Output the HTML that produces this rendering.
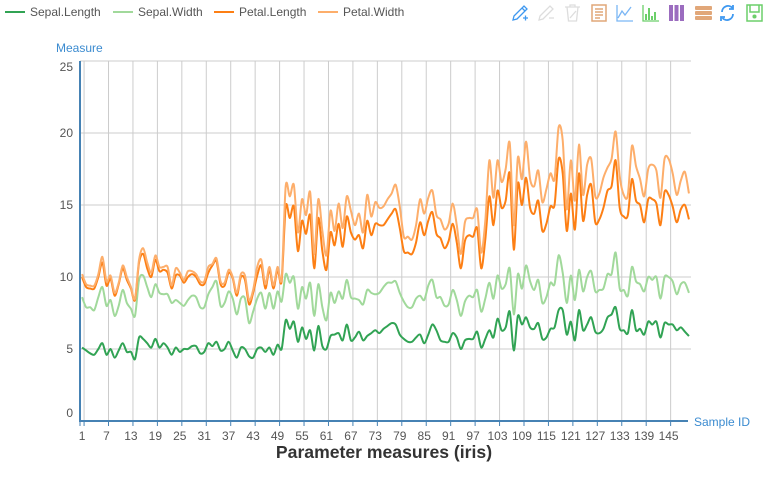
<!DOCTYPE html>
<html><head><meta charset="utf-8">
<style>
html,body{margin:0;padding:0;background:#fff;}
body{width:768px;height:480px;overflow:hidden;font-family:"Liberation Sans",sans-serif;}
svg text{font-family:"Liberation Sans",sans-serif;}
</style></head>
<body>
<svg id="chart" width="768" height="480" viewBox="0 0 768 480" xmlns="http://www.w3.org/2000/svg">
<g id="grid"></g>
<g id="series"></g>
<g id="axes"></g>
<g id="legend"></g>
<g id="toolbox">
 <g fill="none" stroke="#3e98f0" stroke-width="1.3">
  <path d="M513 20 L514 16 L524 6 L527 9 L517 19 Z M522 8 L525 11"/><path d="M523 18 h5 M525.5 15.5 v5"/></g>
 <g fill="none" stroke="#ddd" stroke-width="1.3">
  <path d="M539 20 L540 16 L550 6 L553 9 L543 19 Z"/><path d="M549 18 h5"/></g>
 <g fill="none" stroke="#ddd" stroke-width="1.3">
  <path d="M565 7 h15 M567 7 l1.5 14 h8 l1.5 -14 M570 7 v-2 h5 v2 M570 18 l6 -7"/></g>
 <g fill="none" stroke="#e1a779" stroke-width="1.5">
  <rect x="592" y="5" width="14" height="16"/><path d="M595 9 h8 M595 12 h8 M595 15 h8 M595 18 h5"/></g>
 <g fill="none" stroke="#7ab6f5" stroke-width="1.3">
  <path d="M617 5 v16 h16 M618 18 l4 -7 l3 4 l6 -8"/></g>
 <g fill="none" stroke="#6ccf6a" stroke-width="1.3">
  <path d="M643 5 v16 h16"/><path d="M646 20 v-6 M649 20 v-12 M652 20 v-4 M655 20 v-8" stroke-width="2"/></g>
 <g fill="#9b6cbf">
  <rect x="669" y="5" width="4" height="16"/><rect x="674.5" y="5" width="4" height="16"/><rect x="680" y="5" width="4" height="16"/></g>
 <g fill="#e1a779">
  <rect x="695" y="6" width="17" height="4" rx="1"/><rect x="695" y="11" width="17" height="4" rx="1"/><rect x="695" y="16" width="17" height="4" rx="1"/></g>
 <g fill="none" stroke="#3e98f0" stroke-width="1.8">
  <path d="M722 12 a6 6 0 0 1 10.5 -4 M733 14 a6 6 0 0 1 -10.5 4"/><path d="M733 5 v4 h-4 M721 21 v-4 h4"/></g>
 <g fill="none" stroke="#6ccf6a" stroke-width="1.5">
  <rect x="747" y="5" width="15" height="16"/><path d="M750 5 v7 h9 v-7"/><circle cx="754.5" cy="16.5" r="1.3" fill="#6ccf6a"/></g>
</g>
<text x="56" y="52" font-size="12" fill="#3b8bd0">Measure</text>
<text x="694" y="426" font-size="12" fill="#3b8bd0">Sample ID</text>
<text x="384" y="458" font-size="17.6" font-weight="bold" fill="#333" text-anchor="middle">Parameter measures (iris)</text>
</svg>
<script>
const seriesNames = ["Sepal.Length","Sepal.Width","Petal.Length","Petal.Width"];
const seriesColors = ["#31a354","#a1d99b","#fd7f14","#fdae6b"];
const sepalLength = [5.1,4.9,4.7,4.6,5.0,5.4,4.6,5.0,4.4,4.9,5.4,4.8,4.8,4.3,5.8,5.7,5.4,5.1,5.7,5.1,5.4,5.1,4.6,5.1,4.8,5.0,5.0,5.2,5.2,4.7,4.8,5.4,5.2,5.5,4.9,5.0,5.5,4.9,4.4,5.1,5.0,4.5,4.4,5.0,5.1,4.8,5.1,4.6,5.3,5.0,
7.0,6.4,6.9,5.5,6.5,5.7,6.3,4.9,6.6,5.2,5.0,5.9,6.0,6.1,5.6,6.7,5.6,5.8,6.2,5.6,5.9,6.1,6.3,6.1,6.4,6.6,6.8,6.7,6.0,5.7,5.5,5.5,5.8,6.0,5.4,6.0,6.7,6.3,5.6,5.5,5.5,6.1,5.8,5.0,5.6,5.7,5.7,6.2,5.1,5.7,
6.3,5.8,7.1,6.3,6.5,7.6,4.9,7.3,6.7,7.2,6.5,6.4,6.8,5.7,5.8,6.4,6.5,7.7,7.7,6.0,6.9,5.6,7.7,6.3,6.7,7.2,6.2,6.1,6.4,7.2,7.4,7.9,6.4,6.3,6.1,7.7,6.3,6.4,6.0,6.9,6.7,6.9,5.8,6.8,6.7,6.7,6.3,6.5,6.2,5.9];
const sepalWidth = [3.5,3.0,3.2,3.1,3.6,3.9,3.4,3.4,2.9,3.1,3.7,3.4,3.0,3.0,4.0,4.4,3.9,3.5,3.8,3.8,3.4,3.7,3.6,3.3,3.4,3.0,3.4,3.5,3.4,3.2,3.1,3.4,4.1,4.2,3.1,3.2,3.5,3.6,3.0,3.4,3.5,2.3,3.2,3.5,3.8,3.0,3.8,3.2,3.7,3.3,
3.2,3.2,3.1,2.3,2.8,2.8,3.3,2.4,2.9,2.7,2.0,3.0,2.2,2.9,2.9,3.1,3.0,2.7,2.2,2.5,3.2,2.8,2.5,2.8,2.9,3.0,2.8,3.0,2.9,2.6,2.4,2.4,2.7,2.7,3.0,3.4,3.1,2.3,3.0,2.5,2.6,3.0,2.6,2.3,2.7,3.0,2.9,2.9,2.5,2.8,
3.3,2.7,3.0,2.9,3.0,3.0,2.5,2.9,2.5,3.6,3.2,2.7,3.0,2.5,2.8,3.2,3.0,3.8,2.6,2.2,3.2,2.8,2.8,2.7,3.3,3.2,2.8,3.0,2.8,3.0,2.8,3.8,2.8,2.8,2.6,3.0,3.4,3.1,3.0,3.1,3.1,3.1,2.7,3.2,3.3,3.0,2.5,3.0,3.4,3.0];
const petalLength = [1.4,1.4,1.3,1.5,1.4,1.7,1.4,1.5,1.4,1.5,1.5,1.6,1.4,1.1,1.2,1.5,1.3,1.4,1.7,1.5,1.7,1.5,1.0,1.7,1.9,1.6,1.6,1.5,1.4,1.6,1.6,1.5,1.5,1.4,1.5,1.2,1.3,1.4,1.3,1.5,1.3,1.3,1.3,1.6,1.9,1.4,1.6,1.4,1.5,1.4,
4.7,4.5,4.9,4.0,4.6,4.5,4.7,3.3,4.6,3.9,3.5,4.2,4.0,4.7,3.6,4.4,4.5,4.1,4.5,3.9,4.8,4.0,4.9,4.7,4.3,4.4,4.8,5.0,4.5,3.5,3.8,3.7,3.9,5.1,4.5,4.5,4.7,4.4,4.1,4.0,4.4,4.6,4.0,3.3,4.2,4.2,4.2,4.3,3.0,4.1,
6.0,5.1,5.9,5.6,5.8,6.6,4.5,6.3,5.8,6.1,5.1,5.3,5.5,5.0,5.1,5.3,5.5,6.7,6.9,5.0,5.7,4.9,6.7,4.9,5.7,6.0,4.8,4.9,5.6,5.8,6.1,6.4,5.6,5.1,5.6,6.1,5.6,5.5,4.8,5.4,5.6,5.1,5.1,5.9,5.7,5.2,5.0,5.2,5.4,5.1];
const petalWidth = [0.2,0.2,0.2,0.2,0.2,0.4,0.3,0.2,0.2,0.1,0.2,0.2,0.1,0.1,0.2,0.4,0.4,0.3,0.3,0.3,0.2,0.4,0.2,0.5,0.2,0.2,0.4,0.2,0.2,0.2,0.2,0.4,0.1,0.2,0.2,0.2,0.2,0.1,0.2,0.2,0.3,0.3,0.2,0.6,0.4,0.3,0.2,0.2,0.2,0.2,
1.4,1.5,1.5,1.3,1.5,1.3,1.6,1.0,1.3,1.4,1.0,1.5,1.0,1.4,1.3,1.4,1.5,1.0,1.5,1.1,1.8,1.3,1.5,1.2,1.3,1.4,1.4,1.7,1.5,1.0,1.1,1.0,1.2,1.6,1.5,1.6,1.5,1.3,1.3,1.3,1.2,1.4,1.2,1.0,1.3,1.2,1.3,1.3,1.1,1.3,
2.5,1.9,2.1,1.8,2.2,2.1,1.7,1.8,1.8,2.5,2.0,1.9,2.1,2.0,2.4,2.3,1.8,2.2,2.3,1.5,2.3,2.0,2.0,1.8,2.1,1.8,1.8,1.8,2.1,1.6,1.9,2.0,2.2,1.5,1.4,2.3,2.4,1.8,1.8,2.1,2.4,2.3,1.9,2.3,2.5,2.3,1.9,2.0,2.3,1.8];
const yTicks = [0,5,10,15,20,25];

const NS = "http://www.w3.org/2000/svg";
const X0 = 80, X1 = 691, Y0 = 421, Y1 = 61, YMAX = 25;
const N = sepalLength.length;
const step = (X1 - X0) / N;
function xScale(i){ return X0 + step * (i + 0.5); }
function yScale(v){ return Y0 - (v / YMAX) * (Y0 - Y1); }
function mk(tag, attrs, parent){ const e = document.createElementNS(NS, tag); for (const k in attrs) e.setAttribute(k, attrs[k]); parent.appendChild(e); return e; }

const grid = document.getElementById('grid');
const axes = document.getElementById('axes');
const seriesG = document.getElementById('series');

yTicks.forEach((t, k) => {
  const y = yScale(t);
  if (t > 0) {
    const l = mk('line', {x1: X0, x2: X1, y1: y, y2: y, stroke: '#ccc', 'stroke-width': 1}, grid);
    
    
  }
  let off = 4;
  if (k === 0) off = -4;
  if (k === yTicks.length - 1) off = 10;
  const tx = mk('text', {x: 73, y: y + off, 'font-size': 12, fill: '#555', 'text-anchor': 'end'}, axes);
  tx.textContent = t;
  
  
});
for (let i = 0; i < N; i += 6) {
  const xb = X0 + step * (i + 1);
  const gl = mk('line', {x1: xb, x2: xb, y1: Y1, y2: Y0, stroke: '#ccc', 'stroke-width': 1}, grid);
  
  
  const tk = mk('line', {x1: xb, x2: xb, y1: Y0, y2: Y0 + 5, stroke: '#4682b4', 'stroke-width': 1}, axes);
  
  
  const tx = mk('text', {x: xScale(i), y: Y0 + 19, 'font-size': 12, fill: '#555', 'text-anchor': 'middle'}, axes);
  tx.textContent = i + 1;
  
  
}
const t0 = mk('line', {x1: X0, x2: X0, y1: Y0, y2: Y0 + 5, stroke: '#4682b4'}, axes);


const ya = mk('line', {x1: X0, x2: X0, y1: Y1, y2: Y0 + 1, stroke: '#4682b4', 'stroke-width': 2}, axes);


const xa = mk('line', {x1: X0 - 1, x2: X1 - 3, y1: Y0, y2: Y0, stroke: '#4682b4', 'stroke-width': 2}, axes);



const raw = [sepalLength, sepalWidth, petalLength, petalWidth];
const cum = new Array(N).fill(0);
function smoothPath(pts){
  let d = 'M' + pts[0][0].toFixed(2) + ',' + pts[0][1].toFixed(2);
  const s = 0.3;
  for (let i = 0; i < pts.length - 1; i++) {
    const p0 = pts[Math.max(0, i - 1)], p1 = pts[i], p2 = pts[i + 1], p3 = pts[Math.min(pts.length - 1, i + 2)];
    const c1x = p1[0] + (p2[0] - p0[0]) * s / 2, c1y = p1[1] + (p2[1] - p0[1]) * s / 2;
    const c2x = p2[0] - (p3[0] - p1[0]) * s / 2, c2y = p2[1] - (p3[1] - p1[1]) * s / 2;
    d += ' C' + c1x.toFixed(2) + ',' + c1y.toFixed(2) + ' ' + c2x.toFixed(2) + ',' + c2y.toFixed(2) + ' ' + p2[0].toFixed(2) + ',' + p2[1].toFixed(2);
  }
  return d;
}
raw.forEach((arr, si) => {
  const pts = arr.map((v, i) => { cum[i] += v; return [xScale(i), yScale(cum[i])]; });
  const p = mk('path', {d: smoothPath(pts), fill: 'none', stroke: seriesColors[si], 'stroke-width': 2, 'stroke-linejoin': 'round'}, seriesG);
  
  
});

const legend = document.getElementById('legend');
const legendX = [5, 113, 214, 318];
seriesNames.forEach((n, i) => {
  const g = mk('g', {}, legend);
  
  
  mk('line', {x1: legendX[i], x2: legendX[i] + 20, y1: 12, y2: 12, stroke: seriesColors[i], 'stroke-width': 2}, g);
  const t = mk('text', {x: legendX[i] + 25, y: 16, 'font-size': 12, fill: '#555'}, g);
  t.textContent = n;
});
</script>
</body></html>
